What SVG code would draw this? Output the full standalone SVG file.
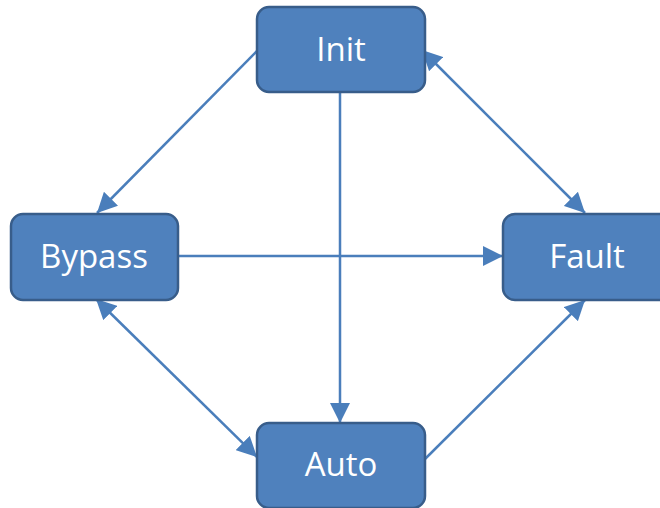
<svg xmlns="http://www.w3.org/2000/svg" width="660" height="508" viewBox="0 0 660 508">
<style>
.node rect{fill:#4F81BD;stroke:#385D8A;stroke-width:2.5}
.node text{fill:#FFFFFF;font-family:"Open Sans","Noto Sans",sans-serif;font-size:33px;text-anchor:middle}
.conn line{stroke:#4A7EBB;stroke-width:2.5;fill:none}
</style>
<defs>
<marker id="ah" markerUnits="userSpaceOnUse" markerWidth="20" markerHeight="20" refX="20" refY="10" orient="auto-start-reverse" viewBox="0 0 20 20">
<path d="M0,0 L20,10 L0,20 z" fill="#4A7EBB"/>
</marker>
</defs>
<rect width="660" height="508" fill="#FFFFFF"/>
<g id="connectors" class="conn">
<line x1="257" y1="51" x2="97" y2="213" marker-end="url(#ah)"/>
<line x1="422" y1="50" x2="585" y2="213" marker-start="url(#ah)" marker-end="url(#ah)"/>
<line x1="340" y1="92" x2="340" y2="423" marker-end="url(#ah)"/>
<line x1="178" y1="256" x2="503" y2="256" marker-end="url(#ah)"/>
<line x1="96" y1="299" x2="257" y2="457" marker-start="url(#ah)" marker-end="url(#ah)"/>
<line x1="423" y1="461" x2="585" y2="300" marker-end="url(#ah)"/>
</g>
<g id="node-init" class="node">
<rect x="257" y="7" width="168" height="85" rx="12"/>
<text x="341" y="61">Init</text>
</g>
<g id="node-bypass" class="node">
<rect x="11" y="214" width="167" height="86" rx="12"/>
<text x="94" y="268">Bypass</text>
</g>
<g id="node-fault" class="node">
<rect x="503" y="214" width="168" height="86" rx="12"/>
<text x="587" y="268">Fault</text>
</g>
<g id="node-auto" class="node">
<rect x="257" y="423" width="168" height="85" rx="12"/>
<text x="341" y="476">Auto</text>
</g>
</svg>
